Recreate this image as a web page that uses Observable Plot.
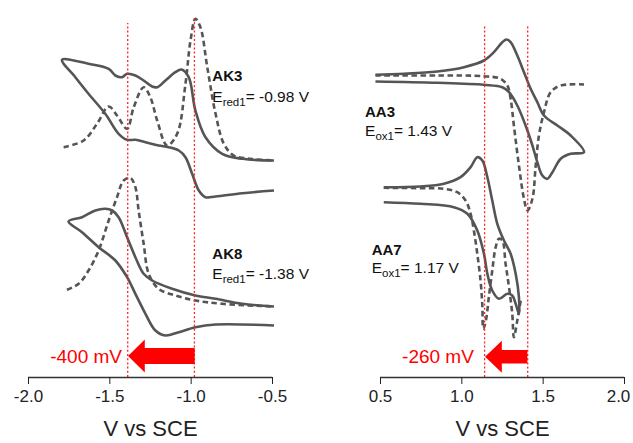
<!DOCTYPE html>
<html><head><meta charset="utf-8">
<script src="https://cdn.jsdelivr.net/npm/d3@7"></script>
<script src="https://cdn.jsdelivr.net/npm/@observablehq/plot@0.6"></script>
<style>
body{margin:0;background:#fff;font-family:"Liberation Sans",Arial,sans-serif}
#wrap{display:flex;width:633px;height:443px;overflow:hidden}
svg{overflow:visible}
</style></head>
<body><div id="wrap"></div>
<script>
// ---- tick labels / titles ----
const leftTicks = [-2.0, -1.5, -1.0, -0.5];
const rightTicks = [0.5, 1.0, 1.5, 2.0];
const axisTitle = "V vs SCE";

// ---- AK3 (V, current a.u.) ----
const ak3CV = [[-0.491,217],[-0.686,218.7],[-0.809,223.7],[-0.912,240.3],[-0.974,267],[-1.015,300.3],[-1.060,308],[-1.097,305.3],[-1.158,297],[-1.209,290.3],[-1.240,291],[-1.292,297],[-1.343,302],[-1.394,303.7],[-1.425,300.3],[-1.466,302],[-1.507,308.7],[-1.631,313.7],[-1.794,317.7],
  [-1.712,300.3],[-1.631,283.7],[-1.528,263.7],[-1.446,243.7],[-1.394,237.7],[-1.343,237.7],[-1.281,235.3],[-1.200,232],[-1.138,230.3],[-1.076,227],[-1.035,220.3],[-0.994,203.7],[-0.953,187],[-0.912,180.3],[-0.850,181],[-0.686,184.3],[-0.491,187]];
const ak3DPV = [[-1.784,230.3],[-1.661,237],[-1.579,253.7],[-1.507,271],[-1.456,262],[-1.394,248.7],[-1.353,270.3],[-1.292,290.3],[-1.251,280.3],[-1.209,257],[-1.148,232],[-1.086,243.7],[-1.035,293.7],[-1.004,337],[-0.974,358.7],[-0.943,350.3],[-0.901,310.3],[-0.850,263.7],[-0.799,233.7],[-0.738,222],[-0.635,218.7],[-0.491,217]];
// ---- AK8 ----
const ak8CV = [[-0.491,71],[-0.686,73.7],[-0.850,78.7],[-0.974,82],[-1.117,88.7],[-1.240,97],[-1.292,103.7],[-1.343,120.3],[-1.394,140.3],[-1.446,160.3],[-1.486,167],[-1.528,168.7],[-1.589,167],[-1.671,160.3],[-1.754,156],
  [-1.671,145.3],[-1.569,130.3],[-1.466,117],[-1.394,100.3],[-1.343,83.7],[-1.281,63.7],[-1.220,47],[-1.158,42],[-1.076,45.3],[-0.974,50.3],[-0.850,53],[-0.491,52]];
const ak8DPV = [[-1.764,87.7],[-1.692,93.7],[-1.631,107],[-1.569,127],[-1.507,157],[-1.456,180.3],[-1.415,197],[-1.374,199.7],[-1.343,190.3],[-1.323,167],[-1.292,133.7],[-1.261,103.7],[-1.200,88.7],[-1.097,82],[-0.974,77],[-0.809,73.7],[-0.491,71]];
// ---- AA3 ----
const aa3CV = [[0.469,302.7],[0.643,303.7],[0.849,306],[1.013,310.3],[1.136,317],[1.197,325.3],[1.249,335.3],[1.275,338],[1.300,335.3],[1.341,322],[1.382,305.3],[1.423,288.7],[1.464,275.3],[1.505,262],[1.587,252],[1.669,242],[1.751,225.3],
  [1.669,223.7],[1.608,218.7],[1.557,205.3],[1.526,198.7],[1.495,202],[1.464,215.3],[1.434,232],[1.392,252],[1.341,272],[1.290,285.3],[1.249,290.3],[1.136,292.7],[0.849,294.7],[0.469,296]];
const aa3DPV = [[0.469,302],[0.849,302],[1.136,301.3],[1.238,298.7],[1.280,292],[1.300,278.7],[1.320,252],[1.351,212],[1.382,178.7],[1.403,167],[1.434,178.7],[1.454,212],[1.474,242],[1.505,265.3],[1.546,285.3],[1.608,292],[1.751,293]];
// ---- AA7 ----
const aa7CV = [[0.520,190.3],[0.746,191],[0.890,193.7],[0.992,200.3],[1.054,210.3],[1.095,220.3],[1.126,217],[1.157,200.3],[1.187,177],[1.218,153.7],[1.259,137],[1.300,123.7],[1.331,103.7],[1.351,80.3],[1.351,63.7],
  [1.331,73.7],[1.310,82],[1.280,83.7],[1.228,78.7],[1.187,87],[1.157,103.7],[1.136,123.7],[1.095,147],[1.034,163.7],[0.951,170.3],[0.746,173.7],[0.520,175.3]];
const aa7DPV = [[0.520,189.7],[0.746,189.3],[0.890,188.7],[0.972,185.3],[1.023,177],[1.054,163.7],[1.074,147],[1.095,123.7],[1.115,97],[1.126,72],[1.132,48.7],[1.148,57],[1.166,80.3],[1.187,107],[1.208,130.3],[1.228,138.7],[1.249,137],[1.269,113.7],[1.290,90.3],[1.310,63.7],[1.320,40.3],[1.341,57],[1.362,77]];

// ---- reference potentials (red dotted lines) ----
const leftRefs = [{v: -1.39, top: 354}, {v: -0.98, top: 361}];
const rightRefs = [{v: 1.14, top: 352}, {v: 1.405, top: 352}];

// ---- shift arrows ----
const leftShift = {from: -0.975, to: -1.385, y: 21, label: "-400 mV", labelX: -1.425};
const rightShift = {from: 1.406, to: 1.146, y: 20.3, label: "-260 mV", labelX: 1.074};

// ---- compound labels ----
const leftLabels = [
  {name: "AK3", sub: "red1", value: "= -0.98 V", x: -0.867, y1: 296, y2: 275.3},
  {name: "AK8", sub: "red1", value: "= -1.38 V", x: -0.867, y1: 117.7, y2: 97.7}
];
const rightLabels = [
  {name: "AA3", sub: "ox1", value: "= 1.43 V", x: 0.408, y1: 260.3, y2: 241.3},
  {name: "AA7", sub: "ox1", value: "= 1.17 V", x: 0.449, y1: 122, y2: 103.7}
];

function arrowPoly(s, headLen, headHalf, shaftHalf) {
  const dir = Math.sign(s.from - s.to);
  const base = s.to + dir * headLen;
  return [
    {x: s.to, y1: s.y, y2: s.y},
    {x: base, y1: s.y + headHalf, y2: s.y - headHalf},
    {x: base, y1: s.y + shaftHalf, y2: s.y - shaftHalf},
    {x: s.from, y1: s.y + shaftHalf, y2: s.y - shaftHalf}
  ];
}

function panel(o) {
  const lineMarks = o.curves.map(c => Plot.line(c.data, Object.assign({
    x: d => d[0], y: d => d[1], stroke: "#555", strokeWidth: 2.6,
    curve: "catmull-rom", strokeLinejoin: "round", strokeLinecap: "butt"
  }, c.dashed ? {strokeDasharray: "5.5,3.5"} : {})));
  const axisMarks = o.lastShift
    ? [Plot.axisX({ticks: o.ticks, tickSize: 7, tickPadding: 5, fontSize: 17, label: null,
        tickFormat: d => d === o.ticks[o.ticks.length - 1] ? "" : d.toFixed(1)}),
       Plot.axisX({ticks: [o.ticks[o.ticks.length - 1]], tickSize: 0, tickPadding: 12, fontSize: 17, label: null, dx: o.lastShift,
        tickFormat: d => d.toFixed(1)})]
    : [Plot.axisX({ticks: o.ticks, tickSize: 7, tickPadding: 5, fontSize: 17, label: null, tickFormat: d => d.toFixed(1)})];
  const chart = Plot.plot({
    width: o.width, height: 443,
    marginLeft: o.marginLeft, marginRight: o.marginRight, marginTop: 0, marginBottom: 66,
    x: {domain: o.domain},
    y: {domain: [0, 377], axis: null},
    style: {fontFamily: "'Liberation Sans', Arial, sans-serif", color: "#222", background: "transparent", overflow: "visible"},
    marks: [
      ...lineMarks,
      Plot.ruleX(o.refs, {x: "v", y1: 0, y2: "top", stroke: "#ff2020", strokeWidth: 1.3, strokeDasharray: "2,2.2"}),
      Plot.area(arrowPoly(o.shift, 0.103, o.headHalf, o.shaftHalf), {x1: "x", y1: "y1", y2: "y2", fill: "red", curve: "linear"}),
      Plot.text([o.shift], {x: "labelX", y: "y", text: "label", textAnchor: "end", fill: "red", fontSize: 19}),
      Plot.ruleY([0], {stroke: "#333", strokeWidth: 1.5}),
      ...axisMarks,
      Plot.text([axisTitle], {frameAnchor: "bottom", dy: 58, fontSize: 22, fill: "#222"})
    ]
  });
  const svg = d3.select(chart);
  const xs = chart.scale("x"), ys = chart.scale("y");
  const g = svg.append("g").attr("font-family", "'Liberation Sans', Arial, sans-serif")
    .attr("fill", "#111").attr("text-anchor", "start");
  for (const a of o.labels) {
    g.append("text").attr("x", xs.apply(a.x)).attr("y", ys.apply(a.y1)).attr("text-anchor", "start")
      .attr("font-size", 15).attr("font-weight", "bold").text(a.name);
    const t = g.append("text").attr("x", xs.apply(a.x)).attr("y", ys.apply(a.y2))
      .attr("text-anchor", "start").attr("font-size", 15.5);
    t.append("tspan").text("E");
    t.append("tspan").attr("font-size", 11.5).attr("dy", 4).text(a.sub);
    t.append("tspan").attr("dy", -4).text(a.value);
  }
  return chart;
}

const wrap = document.getElementById("wrap");
wrap.appendChild(panel({
  width: 316, marginLeft: 28, marginRight: 44, domain: [-2.0, -0.5], ticks: leftTicks,
  curves: [{data: ak3CV}, {data: ak3DPV, dashed: true}, {data: ak8CV}, {data: ak8DPV, dashed: true}],
  refs: leftRefs, shift: leftShift, headHalf: 16.4, shaftHalf: 8, labels: leftLabels
}));
wrap.appendChild(panel({
  width: 317, marginLeft: 64, marginRight: 9, domain: [0.5, 2.0], ticks: rightTicks, lastShift: -6,
  curves: [{data: aa3CV}, {data: aa3DPV, dashed: true}, {data: aa7CV}, {data: aa7DPV, dashed: true}],
  refs: rightRefs, shift: rightShift, headHalf: 16, shaftHalf: 6.7, labels: rightLabels
}));
</script>
</body></html>
